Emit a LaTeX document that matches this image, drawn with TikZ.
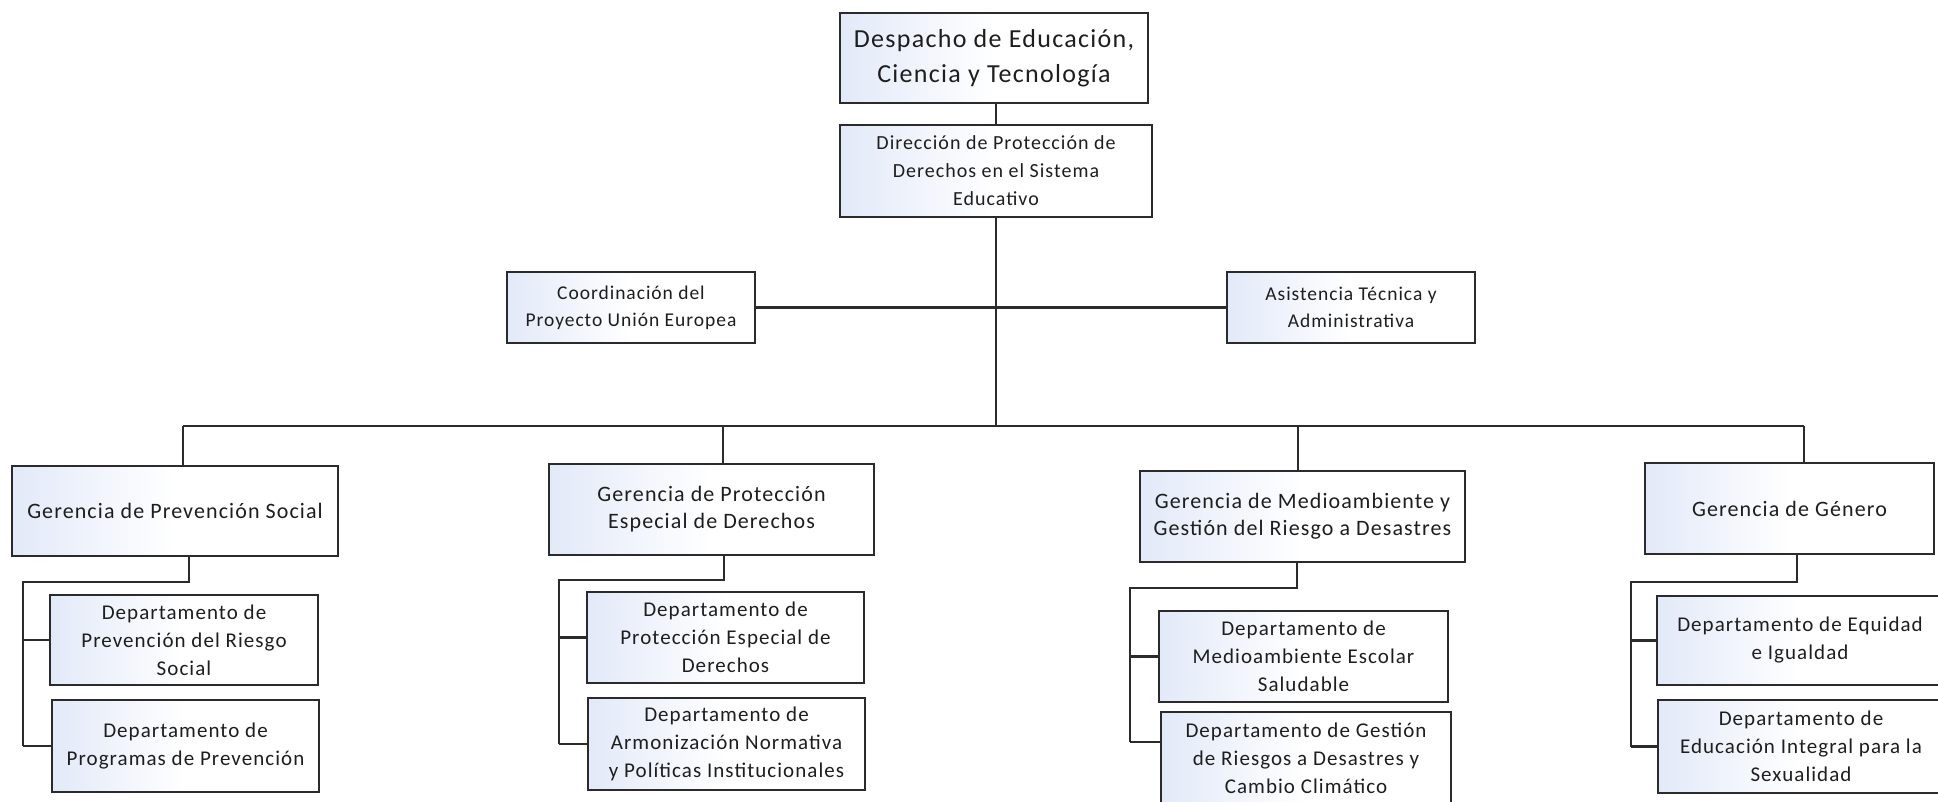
\documentclass[tikz,border=0pt]{standalone}
\usepackage{fontspec}
\setmainfont{Carlito}[LetterSpace=5]
\definecolor{ln}{HTML}{2B2B2B}
\definecolor{tx}{HTML}{1E1E1E}
\definecolor{bb}{RGB}{226,233,248}
\begin{document}
\begin{tikzpicture}[x=1pt,y=-1pt,
 box/.style={draw=ln, line width=2.4pt, left color=bb, right color=white, middle color=white,
   inner sep=0pt, align=center, text=tx},
 fTop/.style={font=\fontsize{26}{35}\selectfont},
 fDir/.style={font=\fontsize{20}{28}\selectfont},
 fSide/.style={font=\fontsize{19.5}{27}\selectfont},
 fGer/.style={font=\fontsize{22}{27}\selectfont},
 fDep/.style={font=\fontsize{21}{28}\selectfont},
 conn/.style={draw=ln, line width=2.2pt}]
\clip (0,0) rectangle (1938,802);
\fill[white] (0,0) rectangle (1938,802);
% top levels
\node[box,fTop,minimum width=308pt,minimum height=90pt] (top) at (994,58) {Despacho de Educación,\\Ciencia y Tecnología};
\node[box,fDir,minimum width=312pt,minimum height=92pt] (dir) at (996,171) {Dirección de Protección de\\Derechos en el Sistema\\Educativo};
\node[box,fSide,minimum width=248pt,minimum height=71pt] (coord) at (631,307.5) {Coordinación del\\Proyecto Unión Europea};
\node[box,fSide,minimum width=248pt,minimum height=71pt] (asist) at (1351,307.5) {Asistencia Técnica y\\Administrativa};
% gerencias
\node[box,fGer,minimum width=326pt,minimum height=90pt] (gps) at (175,511) {Gerencia de Prevención Social};
\node[box,fGer,minimum width=325pt,minimum height=91pt] (gpe) at (711.5,509.5) {Gerencia de Protección\\Especial de Derechos};
\node[box,fGer,minimum width=325pt,minimum height=91pt] (gma) at (1302.5,516.5) {Gerencia de Medioambiente y\\Gestión del Riesgo a Desastres};
\node[box,fGer,minimum width=289pt,minimum height=91pt] (gg) at (1789.5,508.5) {Gerencia de Género};
% departamentos
\node[box,fDep,minimum width=268pt,minimum height=90pt] (ps1) at (184,640) {Departamento de\\Prevención del Riesgo\\Social};
\node[box,fDep,minimum width=267pt,minimum height=92pt] (ps2) at (185.5,746) {Departamento de\\Programas de Prevención};
\node[box,fDep,minimum width=277pt,minimum height=91pt] (pe1) at (725.5,637.5) {Departamento de\\Protección Especial de\\Derechos};
\node[box,fDep,minimum width=277pt,minimum height=92pt] (pe2) at (726.5,744) {Departamento de\\Armonización Normativa\\y Políticas Institucionales};
\node[box,fDep,minimum width=289pt,minimum height=91pt] (ma1) at (1303.5,656.5) {Departamento de\\Medioambiente Escolar\\Saludable};
\node[box,fDep,minimum width=290pt,minimum height=92pt] (ma2) at (1306,758) {Departamento de Gestión\\de Riesgos a Desastres y\\Cambio Climático};
\node[box,fDep,minimum width=286pt,minimum height=89pt] (gg1) at (1800,640.5) {Departamento de Equidad\\e Igualdad};
\node[box,fDep,minimum width=286pt,minimum height=93pt] (gg2) at (1801,746.5) {Departamento de\\Educación Integral para la\\Sexualidad};
% connectors top
\draw[conn] (dir.north |- top.south) -- (dir.north);
\coordinate (bus) at (996,426);
\draw[conn] (dir.south) -- (bus);
\draw[conn] (coord.east) -- (asist.west);
\coordinate (busL) at (183,426);
\coordinate (busB) at (723,426);
\coordinate (busC) at (1298,426);
\coordinate (busR) at (1804,426);
\draw[conn] (busL) -- (busR);
\draw[conn] (busL) -- (busL |- gps.north);
\draw[conn] (busB) -- (busB |- gpe.north);
\draw[conn] (busC) -- (busC |- gma.north);
\draw[conn] (busR) -- (busR |- gg.north);
% sub trees
\coordinate (e1) at (189,582);  \coordinate (s1) at (23,582);
\draw[conn] (gps.south -| e1) -- (e1) -- (s1) -- (s1 |- ps2.west);
\draw[conn] (s1 |- ps1.west) -- (ps1.west);
\draw[conn] (s1 |- ps2.west) -- (ps2.west);
\coordinate (e2) at (724,580);  \coordinate (s2) at (559,580);
\draw[conn] (gpe.south -| e2) -- (e2) -- (s2) -- (s2 |- pe2.west);
\draw[conn] (s2 |- pe1.west) -- (pe1.west);
\draw[conn] (s2 |- pe2.west) -- (pe2.west);
\coordinate (e3) at (1297,588); \coordinate (s3) at (1130,588);
\draw[conn] (gma.south -| e3) -- (e3) -- (s3) -- ([yshift=16pt]ma2.west -| s3);
\draw[conn] (s3 |- ma1.west) -- (ma1.west);
\draw[conn] ([yshift=16pt]ma2.west -| s3) -- ([yshift=16pt]ma2.west);
\coordinate (e4) at (1797,582); \coordinate (s4) at (1631,582);
\draw[conn] (gg.south -| e4) -- (e4) -- (s4) -- (s4 |- gg2.west);
\draw[conn] (s4 |- gg1.west) -- (gg1.west);
\draw[conn] (s4 |- gg2.west) -- (gg2.west);
\end{tikzpicture}
\end{document}
